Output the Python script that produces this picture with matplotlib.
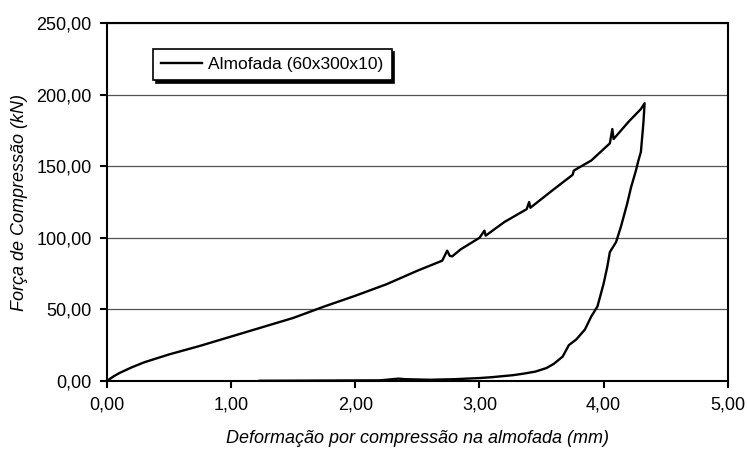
import matplotlib
matplotlib.use("Agg")
import matplotlib.pyplot as plt
from matplotlib.ticker import FuncFormatter

plt.rcParams['font.family'] = ['Liberation Sans', 'DejaVu Sans']

# loading branch
load_x = [0, 0.05, 0.1, 0.2, 0.3, 0.5, 0.75, 1.0, 1.25, 1.5, 1.75, 2.0, 2.25, 2.5,
          2.7, 2.74, 2.76, 2.78, 2.85, 3.0, 3.04, 3.05, 3.2, 3.38, 3.4, 3.41, 3.6,
          3.75, 3.76, 3.9, 4.05, 4.07, 4.08, 4.2, 4.3, 4.33]
load_y = [0, 3, 5.5, 9.5, 13, 18.5, 24.5, 31, 37.5, 44, 52, 59.5, 67.5, 77,
          84, 91, 87.5, 87, 92, 100, 105, 101.5, 111, 120, 125, 121, 134,
          144, 147, 154, 166, 176, 169, 181, 190, 194]

# unloading branch
unload_x = [4.33, 4.32, 4.30, 4.28, 4.26, 4.22, 4.19, 4.14, 4.10, 4.05, 4.03, 4.0,
            3.95, 3.9, 3.85, 3.78, 3.72, 3.67, 3.6, 3.54, 3.45, 3.35, 3.27, 3.1,
            3.0, 2.8, 2.6, 2.4, 2.35, 2.3, 2.2, 1.9, 1.6, 1.23]
unload_y = [194, 180, 160, 154, 147, 135, 124, 108, 97, 90, 80, 68,
            52, 45, 36, 29, 25, 17, 12, 9, 6.5, 5, 4, 2.6,
            2, 1.2, 0.8, 1.2, 1.6, 1.2, 0.4, 0.3, 0.2, 0.1]

x_ticks = [0, 1, 2, 3, 4, 5]
y_ticks = [0, 50, 100, 150, 200, 250]

fig = plt.figure(figsize=(7.48, 4.54), dpi=100)
ax = fig.add_axes([0.143, 0.161, 0.830, 0.788])

ax.plot(load_x + unload_x, load_y + unload_y, color='black', linewidth=1.7,
        label='Almofada (60x300x10)')

ax.set_xlim(0, 5)
ax.set_ylim(0, 250)
ax.set_xticks(x_ticks)
ax.set_yticks(y_ticks)
fmt = FuncFormatter(lambda v, p: f"{v:.2f}".replace('.', ','))
ax.xaxis.set_major_formatter(fmt)
ax.yaxis.set_major_formatter(fmt)
ax.yaxis.grid(True, color='#555555', linewidth=0.9)
ax.set_axisbelow(True)
for s in ax.spines.values():
    s.set_linewidth(1.5)
ax.tick_params(direction='out', length=5, width=1.5, labelsize=13, pad=6)

ax.set_xlabel('Deformação por compressão na almofada (mm)', fontsize=13,
              style='italic', labelpad=12)
ax.set_ylabel('Força de Compressão (kN)', fontsize=13, style='italic', labelpad=6)

leg = ax.legend(loc='upper left', bbox_to_anchor=(0.074, 0.927), fontsize=12.5,
                frameon=True, fancybox=False, shadow={'color': 'black', 'alpha': 1},
                edgecolor='black', handlelength=2.4, handletextpad=0.35,
                borderpad=0.45, borderaxespad=0)
leg.get_frame().set_linewidth(1.2)

fig.savefig('out.png', dpi=100)
